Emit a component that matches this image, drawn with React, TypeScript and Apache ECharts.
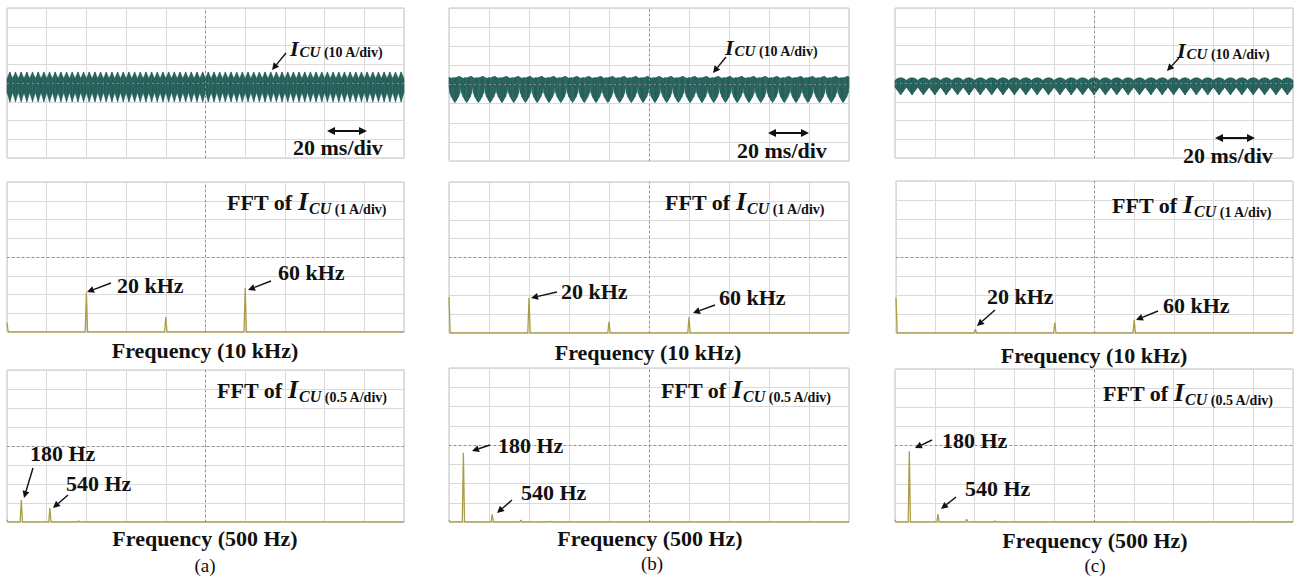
import React, { useEffect, useRef } from "react";
import * as echarts from "echarts";

// ---------------- DATA ----------------
// Top row: capacitor current I_CU, 10 A/div, 20 ms/div (10 div => 200 ms)
const timeSpanMs = 200;
const teethCount = [70, 34, 35]; // ripple teeth visible across each screen (a, b, c)
// one period of each trace's envelope (phase 0..1), amps in A
const toothPhaseA = [0, 0.5, 1];
const toothUpperA = [2.4, 5.9, 2.4];
const toothLowerA = [-5.0, -10.0, -5.0];

const toothPhaseB = [0, 0.08, 0.2, 0.4, 0.5, 0.6, 0.8, 0.92, 1];
const toothUpperB = [3.8, 3.5, 3.3, 3.6, 3.4, 3.7, 4.1, 4.3, 3.8];
const toothLowerB = [-1.0, -4.5, -6.5, -8.6, -9.4, -8.6, -6.5, -4.5, -1.0];

const toothPhaseC = [0, 0.15, 0.3, 0.5, 0.7, 0.85, 1];
const toothUpperC = [1.4, 2.1, 2.6, 2.8, 2.6, 2.1, 1.4];
const toothLowerC = [-2.2, -3.4, -4.6, -6.4, -4.6, -3.4, -2.2];

// Middle row: FFT, 10 kHz/div, 1 A/div
const midSpanKHz = 100;
const midFreqKHz = [0, 20, 40, 60];
const midAmpA = [0.5, 2.1, 0.8, 2.35];
const midAmpB = [1.9, 1.85, 0.6, 0.85];
const midAmpC = [1.85, 0.2, 0.55, 0.7];

// Bottom row: FFT, 500 Hz/div, 0.5 A/div
const lowSpanHz = 5000;
const lowFreqHz = [0, 180, 540, 900, 1260];
const lowAmpA = [0.06, 0.58, 0.37, 0.03, 0.0];
const lowAmpB = [0.06, 1.8, 0.2, 0.05, 0.02];
const lowAmpC = [0.06, 1.85, 0.21, 0.07, 0.03];

// ---------------- LAYOUT / STYLE ----------------
const FONT = "'Liberation Serif','Times New Roman',serif";
const TRACE = "#25605b";
const FFTC = "#ab9d45";
const gridRects = [
  [7, 8, 397, 150], [449, 8, 400, 153], [895, 8, 398, 150],
  [7, 182, 397, 150], [449, 182, 400, 151], [896, 181, 397, 152],
  [7, 370, 397, 152], [449, 368, 400, 154], [895, 369, 398, 153],
];

// segments [t0, up0, lo0, t1, up1, lo1] built by repeating one measured period
function buildTrace(n: number, phase: number[], upper: number[], lower: number[]) {
  const segs: number[][] = [];
  for (let k = 0; k < n; k++) {
    for (let j = 0; j < phase.length - 1; j++) {
      const t0 = ((k + phase[j]) / n) * timeSpanMs;
      const t1 = ((k + phase[j + 1]) / n) * timeSpanMs;
      segs.push([t0, upper[j], lower[j], t1, upper[j + 1], lower[j + 1]]);
    }
  }
  return segs;
}

function spectrum(freqs: number[], amps: number[], hw: number, max: number) {
  const pts: number[][] = [];
  if (freqs[0] > 0) pts.push([0, 0]);
  freqs.forEach((f, i) => {
    if (f - hw > 0) pts.push([f - hw, 0]);
    pts.push([f, amps[i]]);
    pts.push([f + hw, 0]);
  });
  pts.push([max, 0]);
  return pts;
}

let measureCtx: CanvasRenderingContext2D | null = null;
function textW(t: string, font: string) {
  if (!measureCtx) measureCtx = document.createElement("canvas").getContext("2d");
  if (!measureCtx) return t.length * 8;
  measureCtx.font = font;
  return measureCtx.measureText(t).width;
}

function txt(x: number, y: number, text: string, font: string, align = "left") {
  return {
    type: "text", x, y, silent: true, z: 100,
    style: { text, font, fill: "#111", textAlign: align, textVerticalAlign: "middle" },
  };
}

type Part = { t: string; f: string; dy: number; gap?: number };
function chain(x: number, y: number, parts: Part[]) {
  const out: any[] = [];
  let cx = x;
  parts.forEach((p) => {
    out.push(txt(cx, y + p.dy, p.t, p.f));
    cx += textW(p.t, p.f) + (p.gap || 0);
  });
  return out;
}

function head(x1: number, y1: number, x2: number, y2: number, L = 7, W = 3.5) {
  const dx = x2 - x1, dy = y2 - y1;
  const len = Math.hypot(dx, dy) || 1;
  const ux = dx / len, uy = dy / len;
  const bx = x2 - ux * L, by = y2 - uy * L;
  const px = -uy * W, py = ux * W;
  return {
    poly: { type: "polygon", silent: true, z: 100, shape: { points: [[x2, y2], [bx + px, by + py], [bx - px, by - py]] }, style: { fill: "#111" } },
    bx, by,
  };
}

function arrow(x1: number, y1: number, x2: number, y2: number) {
  const h = head(x1, y1, x2, y2);
  return [
    { type: "line", silent: true, z: 100, shape: { x1, y1, x2: h.bx, y2: h.by }, style: { stroke: "#111", lineWidth: 1.4 } },
    h.poly,
  ];
}

function dblArrow(x1: number, x2: number, y: number) {
  const a = head(x1, y, x2, y, 8, 4);
  const b = head(x2, y, x1, y, 8, 4);
  return [
    { type: "line", silent: true, z: 100, shape: { x1: b.bx, y1: y, x2: a.bx, y2: y }, style: { stroke: "#111", lineWidth: 2 } },
    a.poly, b.poly,
  ];
}

const B = (s: number) => `bold ${s}px ${FONT}`;
const BI = (s: number) => `italic bold ${s}px ${FONT}`;

function topLabel(x: number, y: number) {
  return chain(x, y, [
    { t: "I", f: BI(22), dy: 0, gap: 1 },
    { t: "CU", f: BI(15), dy: 4 },
    { t: " (10 A/div)", f: B(14), dy: 4 },
  ]);
}
function fftLabel(x: number, y: number, unit: string) {
  return chain(x, y, [
    { t: "FFT of ", f: B(22), dy: 0 },
    { t: "I", f: BI(26), dy: -1, gap: 1 },
    { t: "CU", f: BI(16), dy: 6 },
    { t: " (" + unit + ")", f: B(14), dy: 7 },
  ]);
}

function buildOption() {
  const traces = [
    buildTrace(teethCount[0], toothPhaseA, toothUpperA, toothLowerA),
    buildTrace(teethCount[1], toothPhaseB, toothUpperB, toothLowerB),
    buildTrace(teethCount[2], toothPhaseC, toothUpperC, toothLowerC),
  ];
  const mids = [midAmpA, midAmpB, midAmpC].map((a) => spectrum(midFreqKHz, a, 0.3, midSpanKHz));
  const lows = [lowAmpA, lowAmpB, lowAmpC].map((a) => spectrum(lowFreqHz, a, 14, lowSpanHz));

  const grid = gridRects.map(([l, t, w, h]) => ({
    left: l, top: t, width: w, height: h, show: true,
    borderColor: "#c2c2c2", borderWidth: 1, backgroundColor: "#fff",
  }));
  const axisCommon = {
    type: "value",
    axisLine: { show: false }, axisTick: { show: false }, axisLabel: { show: false },
    splitLine: { show: true, lineStyle: { color: "#dadada", width: 1 } },
  };
  const xAxis: any[] = [];
  const yAxis: any[] = [];
  for (let i = 0; i < 9; i++) {
    const row = Math.floor(i / 3);
    if (row === 0) {
      xAxis.push({ ...axisCommon, gridIndex: i, min: 0, max: timeSpanMs, interval: 20 });
      yAxis.push({ ...axisCommon, gridIndex: i, min: -40, max: 40, interval: 10 });
    } else if (row === 1) {
      xAxis.push({ ...axisCommon, gridIndex: i, min: 0, max: midSpanKHz, interval: 10 });
      yAxis.push({ ...axisCommon, gridIndex: i, min: 0, max: 8, interval: 1 });
    } else {
      xAxis.push({ ...axisCommon, gridIndex: i, min: 0, max: lowSpanHz, interval: 500 });
      yAxis.push({ ...axisCommon, gridIndex: i, min: 0, max: 4, interval: 0.5 });
    }
  }
  const centerMark = (xc: number, yc: number) => ({
    silent: true, symbol: ["none", "none"], animation: false,
    label: { show: false },
    lineStyle: { color: "#8c8c8c", type: [2, 3], width: 1 },
    data: [{ xAxis: xc }, { yAxis: yc }],
  });

  const series: any[] = [];
  traces.forEach((segs, i) => {
    series.push({
      type: "custom", xAxisIndex: i, yAxisIndex: i, data: segs, silent: true, z: 3,
      encode: { x: [0, 3], y: [1, 2, 4, 5] },
      renderItem: (params: any, api: any) => {
        const a = api.coord([api.value(0), api.value(1)]);
        const b = api.coord([api.value(3), api.value(4)]);
        const c = api.coord([api.value(3), api.value(5)]);
        const d = api.coord([api.value(0), api.value(2)]);
        return {
          type: "polygon",
          shape: { points: [a, b, c, d] },
          style: { fill: TRACE, stroke: TRACE, lineWidth: 0.6 },
        };
      },
      markLine: centerMark(100, 0),
    });
  });
  mids.forEach((d, k) => {
    const i = 3 + k;
    series.push({
      type: "line", xAxisIndex: i, yAxisIndex: i, data: d, symbol: "none", silent: true,
      lineStyle: { color: FFTC, width: 1.3 }, markLine: centerMark(50, 4), z: 3,
    });
  });
  lows.forEach((d, k) => {
    const i = 6 + k;
    series.push({
      type: "line", xAxisIndex: i, yAxisIndex: i, data: d, symbol: "none", silent: true,
      lineStyle: { color: FFTC, width: 1.3 }, markLine: centerMark(2500, 2), z: 3,
    });
  });

  const g: any[] = [];
  // top row
  g.push(...topLabel(290, 48), ...arrow(286, 53, 272, 70), ...dblArrow(327, 367, 131), txt(293, 147, "20 ms/div", B(22)));
  g.push(...topLabel(725, 47), ...arrow(726, 57, 713, 73), ...dblArrow(768, 809, 133), txt(737, 150, "20 ms/div", B(22)));
  g.push(...topLabel(1177, 50), ...arrow(1179, 58, 1167, 71), ...dblArrow(1215, 1255, 138), txt(1183, 155, "20 ms/div", B(22)));
  // middle row
  g.push(...fftLabel(227, 202, "1 A/div"), txt(117, 285, "20 kHz", B(22)), txt(278, 272, "60 kHz", B(22)),
    ...arrow(111, 283, 87, 292), ...arrow(271, 281, 248, 290), txt(205, 350, "Frequency (10 kHz)", B(22), "center"));
  g.push(...fftLabel(665, 202, "1 A/div"), txt(561, 291, "20 kHz", B(22)), txt(719, 297, "60 kHz", B(22)),
    ...arrow(557, 292, 531, 298), ...arrow(715, 305, 693, 313), txt(648, 352, "Frequency (10 kHz)", B(22), "center"));
  g.push(...fftLabel(1112, 205, "1 A/div"), txt(987, 296, "20 kHz", B(22)), txt(1163, 305, "60 kHz", B(22)),
    ...arrow(995, 310, 977, 326), ...arrow(1158, 311, 1136, 320), txt(1094, 355, "Frequency (10 kHz)", B(22), "center"));
  // bottom row
  g.push(...fftLabel(217, 390, "0.5 A/div"), txt(30, 453, "180 Hz", B(22)), txt(66, 483, "540 Hz", B(22)),
    ...arrow(33, 468, 24, 498), ...arrow(68, 495, 53, 508), txt(205, 538, "Frequency (500 Hz)", B(22), "center"),
    txt(205, 565, "(a)", `19px ${FONT}`, "center"));
  g.push(...fftLabel(661, 390, "0.5 A/div"), txt(498, 445, "180 Hz", B(22)), txt(521, 492, "540 Hz", B(22)),
    ...arrow(490, 445, 472, 451), ...arrow(512, 500, 497, 513), txt(650, 538, "Frequency (500 Hz)", B(22), "center"),
    txt(652, 563, "(b)", `19px ${FONT}`, "center"));
  g.push(...fftLabel(1103, 393, "0.5 A/div"), txt(942, 440, "180 Hz", B(22)), txt(965, 488, "540 Hz", B(22)),
    ...arrow(932, 440, 915, 448), ...arrow(956, 497, 941, 509), txt(1095, 540, "Frequency (500 Hz)", B(22), "center"),
    txt(1095, 565, "(c)", `19px ${FONT}`, "center"));

  return {
    animation: false,
    backgroundColor: "#fff",
    grid, xAxis, yAxis, series,
    graphic: { elements: g },
  };
}

export default function App() {
  const ref = useRef<HTMLDivElement>(null);
  useEffect(() => {
    document.body.style.margin = "0";
    if (!ref.current) return;
    const chart = echarts.init(ref.current, undefined, { renderer: "svg" });
    chart.setOption(buildOption() as any);
    return () => chart.dispose();
  }, []);
  return <div ref={ref} style={{ width: 1297, height: 577 }} />;
}
